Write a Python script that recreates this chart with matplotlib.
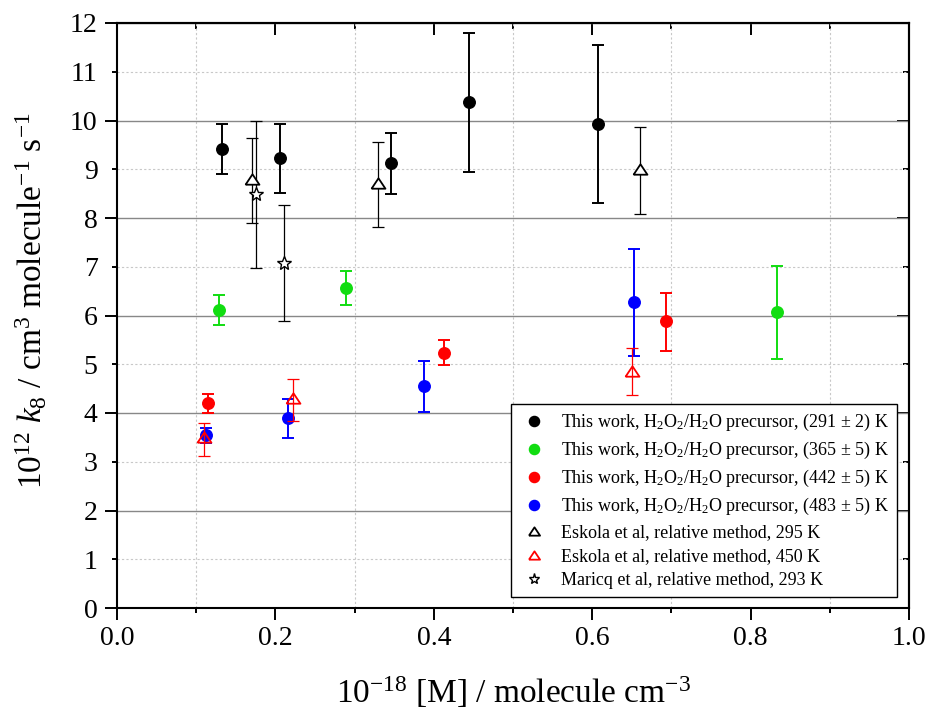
import matplotlib
matplotlib.use("Agg")
import matplotlib.pyplot as plt
from matplotlib.ticker import MultipleLocator, FormatStrFormatter
from matplotlib.lines import Line2D
import numpy as np

plt.rcParams['font.family'] = ['Liberation Serif', 'DejaVu Serif']
plt.rcParams['mathtext.fontset'] = 'custom'
plt.rcParams['mathtext.rm'] = 'Liberation Serif'
plt.rcParams['mathtext.it'] = 'Liberation Serif:italic'
plt.rcParams['mathtext.bf'] = 'Liberation Serif:bold'

# ---- data ----
x_291 = [0.133, 0.206, 0.346, 0.444, 0.607]
y_291 = [9.42, 9.23, 9.12, 10.38, 9.93]
lo_291 = [8.91, 8.51, 8.49, 8.95, 8.31]
hi_291 = [9.93, 9.93, 9.74, 11.80, 11.55]

x_365 = [0.129, 0.289, 0.833]
y_365 = [6.12, 6.57, 6.07]
lo_365 = [5.80, 6.22, 5.11]
hi_365 = [6.43, 6.92, 7.02]

x_442 = [0.1145, 0.413, 0.693]
y_442 = [4.20, 5.24, 5.88]
lo_442 = [3.99, 4.98, 5.28]
hi_442 = [4.39, 5.50, 6.47]

x_483 = [0.113, 0.216, 0.387, 0.653]
y_483 = [3.55, 3.89, 4.55, 6.28]
lo_483 = [3.38, 3.48, 4.02, 5.16]
hi_483 = [3.70, 4.29, 5.07, 7.37]

x_esk295 = [0.170, 0.330, 0.660]
y_esk295 = [8.79, 8.72, 9.00]
lo_esk295 = [7.90, 7.81, 8.08]
hi_esk295 = [9.65, 9.55, 9.87]

x_esk450 = [0.110, 0.222, 0.650]
y_esk450 = [3.50, 4.31, 4.87]
lo_esk450 = [3.11, 3.84, 4.37]
hi_esk450 = [3.80, 4.69, 5.33]

x_mar293 = [0.1755, 0.211]
y_mar293 = [8.49, 7.08]
lo_mar293 = [6.98, 5.89]
hi_mar293 = [9.98, 8.27]

labels = [
    "This work, H$_2$O$_2$/H$_2$O precursor, (291 ± 2) K",
    "This work, H$_2$O$_2$/H$_2$O precursor, (365 ± 5) K",
    "This work, H$_2$O$_2$/H$_2$O precursor, (442 ± 5) K",
    "This work, H$_2$O$_2$/H$_2$O precursor, (483 ± 5) K",
    "Eskola et al, relative method, 295 K",
    "Eskola et al, relative method, 450 K",
    "Maricq et al, relative method, 293 K",
]

GREEN = '#11dd11'
tri = [(-1, -0.75), (1, -0.75), (0, 0.75), (-1, -0.75)]

fig = plt.figure(figsize=(9.29, 7.13), dpi=100)
ax = fig.add_axes([117/929, 1-608/713, 792/929, 585/713])

def err(y, lo, hi):
    y = np.array(y); lo = np.array(lo); hi = np.array(hi)
    return [y - lo, hi - y]

circle_sets = [
    (x_291, y_291, lo_291, hi_291, 'black'),
    (x_365, y_365, lo_365, hi_365, GREEN),
    (x_442, y_442, lo_442, hi_442, 'red'),
    (x_483, y_483, lo_483, hi_483, 'blue'),
]
for xs, ys, lo, hi, c in circle_sets:
    ax.errorbar(xs, ys, yerr=err(ys, lo, hi), fmt='o', color=c, ms=8.3,
                elinewidth=1.4, capsize=4.2, capthick=1.4, zorder=3)

ax.errorbar(x_esk295, y_esk295, yerr=err(y_esk295, lo_esk295, hi_esk295), fmt='none',
            ecolor='black', elinewidth=0.9, capsize=4.2, capthick=0.9, zorder=4)
ax.plot(x_esk295, y_esk295, linestyle='none', marker=tri, ms=10, mfc='white', mec='black', mew=1.3, zorder=5)

ax.errorbar(x_esk450, y_esk450, yerr=err(y_esk450, lo_esk450, hi_esk450), fmt='none',
            ecolor='red', elinewidth=0.9, capsize=4.2, capthick=0.9, zorder=4)
ax.plot(x_esk450, y_esk450, linestyle='none', marker=tri, ms=10, mfc='none', mec='red', mew=1.3, zorder=5)

ax.errorbar(x_mar293, y_mar293, yerr=err(y_mar293, lo_mar293, hi_mar293), fmt='none',
            ecolor='black', elinewidth=0.9, capsize=4.2, capthick=0.9, zorder=4)
ax.plot(x_mar293, y_mar293, linestyle='none', marker='*', ms=10, mfc='white', mec='black', mew=1.0, zorder=5)

ax.set_xlim(0, 1)
ax.set_ylim(0, 12)
ax.xaxis.set_major_locator(MultipleLocator(0.2))
ax.xaxis.set_minor_locator(MultipleLocator(0.1))
ax.yaxis.set_major_locator(MultipleLocator(2))
ax.yaxis.set_minor_locator(MultipleLocator(1))
ax.xaxis.set_major_formatter(FormatStrFormatter('%.1f'))
ax.yaxis.set_major_formatter(FormatStrFormatter('%d'))
ax.yaxis.set_minor_formatter(FormatStrFormatter('%d'))

ax.grid(axis='y', which='major', color='#888888', lw=1.0, ls='-')
ax.grid(axis='y', which='minor', color='#c8c8c8', lw=0.8, ls=(0, (2, 2)))
ax.grid(axis='x', which='minor', color='#c8c8c8', lw=0.8, ls=(0, (2, 2)))
ax.set_axisbelow(True)

for s in ax.spines.values():
    s.set_linewidth(1.5)

ax.tick_params(axis='both', which='both', direction='out', width=1.4, labelsize=20,
               top=False, right=False)
ax.tick_params(axis='both', which='major', length=8.5)
ax.tick_params(axis='both', which='minor', length=3.6)
ax.tick_params(axis='y', which='major', pad=5.5)
ax.tick_params(axis='y', which='minor', pad=10.4)
ax.tick_params(axis='x', which='major', pad=4.5)

secx = ax.secondary_xaxis('top')
secx.xaxis.set_major_locator(MultipleLocator(0.2))
secx.xaxis.set_minor_locator(MultipleLocator(0.1))
secx.tick_params(which='both', direction='in', width=1.4, labeltop=False)
secx.tick_params(which='major', length=8.5)
secx.tick_params(which='minor', length=4)
secy = ax.secondary_yaxis('right')
secy.yaxis.set_major_locator(MultipleLocator(2))
secy.yaxis.set_minor_locator(MultipleLocator(1))
secy.tick_params(which='both', direction='in', width=1.4, labelright=False)
secy.tick_params(which='major', length=8.5)
secy.tick_params(which='minor', length=4)
for sa in (secx, secy):
    for s in sa.spines.values():
        s.set_linewidth(1.5)

ax.set_xlabel("10$^{-18}$ [M] / molecule cm$^{-3}$", fontsize=24)
ax.set_ylabel("10$^{12}$ $k_8$ / cm$^3$ molecule$^{-1}$ s$^{-1}$", fontsize=24)
ax.xaxis.set_label_coords(0.5, -0.113)
ax.yaxis.set_label_coords(-0.085, 0.525)

handles = [
    Line2D([], [], ls='none', marker='o', color='black', ms=7.3),
    Line2D([], [], ls='none', marker='o', color=GREEN, ms=7.3),
    Line2D([], [], ls='none', marker='o', color='red', ms=7.3),
    Line2D([], [], ls='none', marker='o', color='blue', ms=7.3),
    Line2D([], [], ls='none', marker=tri, ms=8, mfc='white', mec='black', mew=1.3),
    Line2D([], [], ls='none', marker=tri, ms=8, mfc='white', mec='red', mew=1.3),
    Line2D([], [], ls='none', marker='*', ms=8, mfc='white', mec='black', mew=1.0),
]
leg = ax.legend(handles, labels, loc='lower right', bbox_to_anchor=(0.985, 0.0188),
                fontsize=13, frameon=True, fancybox=False, framealpha=1,
                edgecolor='black', borderpad=0.45, handlelength=1.6, handletextpad=0.7,
                labelspacing=0.38, borderaxespad=0)
leg.get_frame().set_linewidth(1.0)
leg.set_zorder(10)

fig.savefig('out.png', dpi=100)
